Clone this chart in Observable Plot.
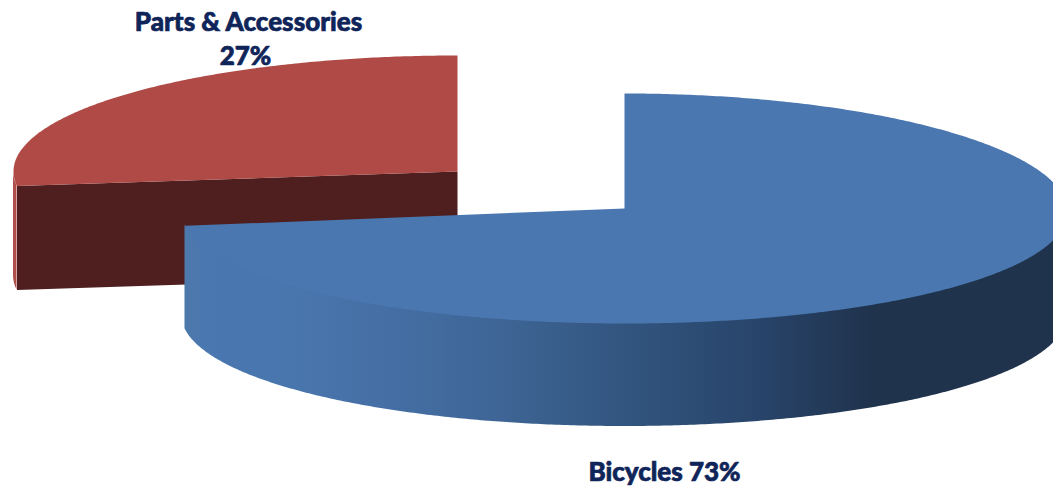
<!DOCTYPE html>
<html>
<head>
<meta charset="utf-8">
<script src="https://cdn.jsdelivr.net/npm/d3@7"></script>
<script src="https://cdn.jsdelivr.net/npm/@observablehq/plot@0.6"></script>
<style>
  html, body { margin: 0; padding: 0; background: #fff; overflow: hidden; }
  svg { display: block; }
</style>
</head>
<body>
<div id="chart"></div>
<script>
// Revenue split shown as a tilted, exploded pie.
const categories = ["Bicycles", "Parts & Accessories"];
const shares = [73, 27];

const width = 1053;
const height = 486;

// Projection of each wedge: centre, radii of the tilted disc, wall depth,
// and a small perspective sag that lowers the rim towards the sides.
const bikeDisc = {cx: 624, cy: 208, rx: 443, ry: 115, depth: 103, sag: 3};
const partsDisc = {cx: 457, cy: 171, rx: 444, ry: 116, depth: 104, sag: 0};

const toAngle = (share) => (share / 100) * 360;
const rad = (deg) => (deg * Math.PI) / 180;

// Point on a disc rim; angles run clockwise from twelve o'clock.
const rim = (d, deg) => {
  const s = Math.sin(rad(deg));
  return {
    x: d.cx + d.rx * s,
    y: d.cy - d.ry * Math.cos(rad(deg)) + d.sag * s * s
  };
};
const arc = (d, from, to, step = 0.5) => {
  const n = Math.ceil(Math.abs(to - from) / step);
  return d3.range(n + 1).map((i) => rim(d, from + ((to - from) * i) / n));
};
const wedge = (d, from, to) => [{x: d.cx, y: d.cy}, ...arc(d, from, to)];

// Bicycles sweeps clockwise from twelve o'clock; Parts fills the remainder.
const bikeSweep = toAngle(shares[0]);
const partsSweep = toAngle(shares[1]);

const bikeTop = wedge(bikeDisc, 0, bikeSweep);
const partsTop = wedge(partsDisc, -partsSweep, 0);

// Front-facing outer walls.
const bikeWall = arc(bikeDisc, 90, bikeSweep);
const partsWall = arc(partsDisc, -partsSweep, -90);

// Walls start slightly inside the rim so the top face overlaps them cleanly.
const wallTop = (d) => (p) => p.y + (d.cy - p.y) * 0.05;

// Flat cut face of the Parts wedge, running from its centre out to the rim.
const partsEnd = rim(partsDisc, -partsSweep);
const partsCut = [
  {x: partsDisc.cx, y: partsDisc.cy},
  {x: partsEnd.x, y: partsEnd.y},
  {x: partsEnd.x, y: partsEnd.y + partsDisc.depth},
  {x: partsDisc.cx, y: partsDisc.cy + partsDisc.depth}
];

// Horizontal shading of the blue wall, from lit left edge to shaded right.
const wallStops = [
  [185, "#4d79ab"], [205, "#4a77b0"], [300, "#4975ad"], [400, "#446ea3"],
  [500, "#3e6595"], [620, "#325680"], [760, "#28446a"], [870, "#20334d"],
  [1053, "#20334d"]
];
const wallGradient = () => {
  const defs = d3.create("svg:defs");
  const g = defs.append("linearGradient")
    .attr("id", "bike-wall")
    .attr("gradientUnits", "userSpaceOnUse")
    .attr("x1", 0).attr("x2", width).attr("y1", 0).attr("y2", 0);
  for (const [px, color] of wallStops) {
    g.append("stop").attr("offset", px / width).attr("stop-color", color);
  }
  return defs.node();
};

const labelFont = {
  fontFamily: "Lato, Carlito, sans-serif",
  fontWeight: 900,
  fontSize: 26,
  fill: "#0f2559",
  stroke: "#0f2559",
  strokeWidth: 0.7,
  textAnchor: "middle",
  lineAnchor: "bottom"
};
const labels = [
  {text: categories[1], x: 248, y: 30},
  {text: `${shares[1]}%`, x: 245, y: 64},
  {text: `${categories[0]} ${shares[0]}%`, x: 664, y: 480}
];

const plot = Plot.plot({
  width,
  height,
  margin: 0,
  x: {domain: [0, width], range: [0, width], axis: null},
  y: {domain: [0, height], range: [0, height], axis: null},
  marks: [
    wallGradient,
    // Parts & Accessories wedge
    Plot.area(partsWall, {
      x1: "x",
      y1: wallTop(partsDisc),
      y2: (p) => p.y + partsDisc.depth,
      fill: "#b04f4a",
      curve: "linear"
    }),
    Plot.line(partsCut, {x: "x", y: "y", fill: "#4e1f1e", stroke: "none", curve: "linear-closed"}),
    Plot.line(partsTop, {x: "x", y: "y", fill: "#af4a46", stroke: "none", curve: "linear-closed"}),
    // Bicycles wedge
    Plot.area(bikeWall, {
      x1: "x",
      y1: wallTop(bikeDisc),
      y2: (p) => p.y + bikeDisc.depth,
      fill: "url(#bike-wall)",
      curve: "linear"
    }),
    Plot.line(bikeTop, {x: "x", y: "y", fill: "#4a77b0", stroke: "none", curve: "linear-closed"}),
    // Category labels
    Plot.text(labels, {x: "x", y: "y", text: "text", ...labelFont})
  ]
});
d3.select(plot).style("background", "#fff").style("overflow", "hidden");
document.getElementById("chart").appendChild(plot);
</script>
</body>
</html>
